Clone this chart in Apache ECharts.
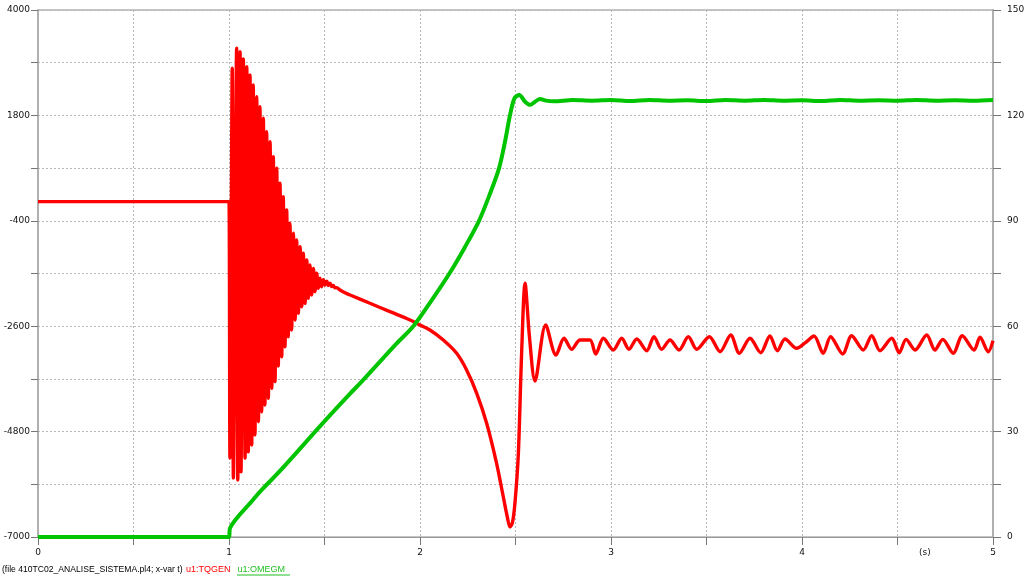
<!DOCTYPE html>
<html>
<head>
<meta charset="utf-8">
<script src="https://cdn.jsdelivr.net/npm/echarts@6/dist/echarts.min.js"></script>
<style>
html,body{margin:0;padding:0;background:#fff;}
#c{width:1024px;height:577px;}
</style>
</head>
<body>
<div id="c"></div>
<script>
// ---- Data ----
const seriesNames = ['u1:TQGEN', 'u1:OMEGM'];
const fileLabel = '(file 410TC02_ANALISE_SISTEMA.pl4; x-var t)';
const xUnit = '(s)';

// TQGEN (left axis): time (s)
const tqgenTime = [
  0, 0.995, 1.000, 1.005, 1.017, 1.023, 1.040, 1.046, 1.058, 1.063, 1.075, 1.084, 1.093, 1.101,
  1.110, 1.119, 1.127, 1.136, 1.145, 1.154, 1.162, 1.171, 1.180, 1.188, 1.197, 1.206,
  1.215, 1.224, 1.232, 1.241, 1.250, 1.258, 1.267, 1.276, 1.284, 1.293, 1.302, 1.310,
  1.319, 1.328, 1.337, 1.346, 1.354, 1.363, 1.372, 1.381, 1.389, 1.398, 1.407, 1.416,
  1.424, 1.433, 1.442, 1.450, 1.459, 1.468, 1.476, 1.485, 1.494, 1.503, 1.512, 1.520,
  1.529, 1.538, 1.546, 1.555, 1.564, 1.581, 1.607, 1.634, 1.738, 1.843, 1.948, 2.000,
  2.052, 2.122, 2.192, 2.244, 2.297, 2.349, 2.401, 2.436, 2.458, 2.471, 2.484, 2.497,
  2.515, 2.532, 2.550, 2.573, 2.602, 2.658, 2.712, 2.754, 2.794, 2.838, 2.890, 2.920,
  2.960, 3.012, 3.056, 3.094, 3.135, 3.187, 3.225, 3.265, 3.309, 3.356, 3.405, 3.449,
  3.515, 3.571, 3.627, 3.672, 3.728, 3.784, 3.832, 3.871, 3.911, 3.972, 4.016, 4.063,
  4.111, 4.150, 4.213, 4.260, 4.321, 4.365, 4.408, 4.470, 4.509, 4.545, 4.592, 4.653,
  4.696, 4.737, 4.792, 4.839, 4.901, 4.932, 4.975, 5.000
];
// TQGEN values
const tqgenValue = [
  0, 0, 0, -5351, 2783, -5769, 3201, -5810, 3130, -5637, 2977, -5357, 2817, -5220,
  2643, -5080, 2435, -4871, 2190, -4593, 1982, -4385, 1739, -4245, 1460, -4105,
  1251, -3896, 938, -3759, 696, -3431, 383, -3237, 103, -3028, -175, -2819,
  -452, -2679, -661, -2471, -801, -2331, -941, -2193, -1078, -2122, -1218, -2018,
  -1323, -1949, -1392, -1880, -1496, -1809, -1600, -1776, -1630, -1740, -1660, -1750,
  -1705, -1771, -1750, -1800, -1795, -1844, -1900, -1949, -2122, -2297, -2471, -2575,
  -2679, -2888, -3166, -3514, -4001, -4627, -5462, -6159, -6600, -6790, -6700, -6300,
  -5253, -3166, -1705, -2819, -3744, -2575, -3201, -2853, -3082, -2888, -2888, -3180,
  -2853, -3097, -2853, -3082, -2867, -3111, -2819, -3082, -2888, -3097, -2819, -3082,
  -2819, -3132, -2784, -3166, -2853, -3153, -2805, -3111, -2867, -3061, -2950, -2805,
  -3166, -2819, -3180, -2798, -3097, -2798, -3111, -2853, -3153, -2874, -3097, -2784,
  -3097, -2874, -3166, -2798, -3097, -2832, -3132, -2903
];

// OMEGM (right axis): time (s)
const omegmTime = [
  0, 1.000, 1.005, 1.126, 1.171, 1.267, 1.503, 1.634, 1.703, 1.878, 1.965, 2.060,
  2.154, 2.235, 2.309, 2.365, 2.414, 2.445, 2.471, 2.495, 2.520, 2.550, 2.576, 2.605,
  2.628, 2.660, 2.700, 2.800, 2.900, 3.000, 3.100, 3.200, 3.300, 3.400, 3.500, 3.600,
  3.700, 3.800, 3.900, 4.000, 4.100, 4.200, 4.300, 4.400, 4.500, 4.600, 4.700, 4.800,
  4.900, 5.000
];
// OMEGM values
const omegmValue = [
  0, 0, 2.5, 10.6, 13.4, 18.8, 33.1, 40.8, 44.7, 55.1, 60.0, 67.3,
  75.0, 82.5, 90.0, 97.5, 105.0, 112.5, 120.0, 124.9, 125.8, 123.9, 123.0, 124.0,
  124.7, 124.2, 124.0, 124.4, 124.2, 124.4, 124.1, 124.4, 124.2, 124.3, 124.1, 124.4,
  124.2, 124.4, 124.2, 124.3, 124.1, 124.4, 124.2, 124.3, 124.2, 124.4, 124.2, 124.3,
  124.2, 124.4
];

// Axis ranges / ticks
const xTicks = [0, 5, 0.5];          // min, max, step
const leftTicks = [-7000, 4000, 1100];
const rightTicks = [0, 150, 15];

// ---- Build chart ----
const zip = (a, b) => a.map((v, i) => [v, b[i]]);
const chart = echarts.init(document.getElementById('c'), null, {renderer: 'canvas'});
const labelFont = {fontFamily: 'DejaVu Sans', fontSize: 9, color: '#111'};
const gridLine = {show: true, lineStyle: {color: '#b8b8b8', type: [2, 2], width: 1}};

chart.setOption({
  animation: false,
  backgroundColor: '#fff',
  grid: {left: 38, right: 31, top: 10, bottom: 40, show: true, borderColor: '#8a8a8a', borderWidth: 1,
         containLabel: false, outerBoundsMode: 'none'},
  xAxis: {
    type: 'value', min: xTicks[0], max: xTicks[1], interval: xTicks[2],
    axisLine: {show: true, onZero: false, lineStyle: {color: '#9a9a9a', width: 1}},
    axisTick: {show: true, length: 8, lineStyle: {color: '#777'}},
    axisLabel: Object.assign({margin: 11, formatter: v => (Math.abs(v - Math.round(v)) < 1e-9 ? String(Math.round(v)) : '')}, labelFont),
    splitLine: gridLine
  },
  yAxis: [
    {
      type: 'value', position: 'left', min: leftTicks[0], max: leftTicks[1], interval: leftTicks[2],
      axisLine: {show: true, onZero: false, lineStyle: {color: '#b0b0b0', width: 2}},
      axisTick: {show: true, length: 7, lineStyle: {color: '#777'}},
      axisLabel: Object.assign({margin: 8, formatter: v => (Math.round((v - leftTicks[0]) / leftTicks[2]) % 2 === 0 ? String(v) : '')}, labelFont),
      splitLine: gridLine
    },
    {
      type: 'value', position: 'right', min: rightTicks[0], max: rightTicks[1], interval: rightTicks[2],
      axisLine: {show: true, onZero: false, lineStyle: {color: '#b0b0b0', width: 2}},
      axisTick: {show: true, length: 8, lineStyle: {color: '#777'}},
      axisLabel: Object.assign({margin: 14, formatter: v => (Math.round(v) % 30 === 0 ? String(v) : '')}, labelFont),
      splitLine: {show: false}
    }
  ],
  legend: {
    left: 181, top: 565, icon: 'none', itemWidth: 0, itemHeight: 0, itemGap: 2, padding: 0,
    textStyle: {fontFamily: 'Liberation Sans', fontSize: 9},
    data: [
      {name: seriesNames[0], textStyle: {color: '#ff0000'}},
      {name: seriesNames[1], textStyle: {color: '#22c022'}}
    ]
  },
  graphic: [
    {type: 'text', left: 2, top: 565, style: {text: fileLabel, fill: '#000', font: '8.6px "Liberation Sans"'}},
    {type: 'text', left: 919, top: 548, style: {text: xUnit, fill: '#111', font: '9px "DejaVu Sans"'}},
    {type: 'line', shape: {x1: 237, y1: 575, x2: 290, y2: 575}, style: {stroke: '#22c022', lineWidth: 1}}
  ],
  series: [
    {
      name: seriesNames[0], type: 'line', xAxisIndex: 0, yAxisIndex: 0, showSymbol: false, symbol: 'none',
      smooth: 0.3, lineStyle: {color: '#ff0000', width: 3.4}, itemStyle: {color: '#ff0000'},
      data: zip(tqgenTime, tqgenValue), z: 2
    },
    {
      name: seriesNames[1], type: 'line', xAxisIndex: 0, yAxisIndex: 1, showSymbol: false, symbol: 'none',
      smooth: 0.3, lineStyle: {color: '#00c400', width: 4}, itemStyle: {color: '#00c400'},
      data: zip(omegmTime, omegmValue), z: 3
    }
  ]
});
</script>
</body>
</html>
